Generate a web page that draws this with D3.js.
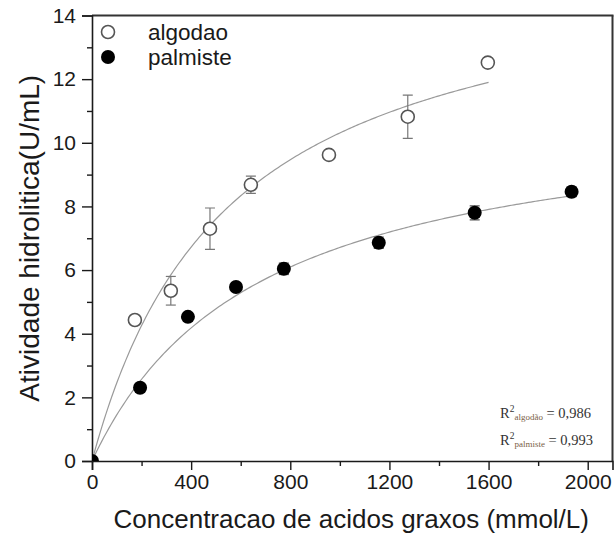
<!DOCTYPE html>
<html>
<head>
<meta charset="utf-8">
<script src="https://cdn.jsdelivr.net/npm/d3@7"></script>
<style>
  html, body { margin: 0; padding: 0; background: #fff; }
  svg { display: block; }
</style>
</head>
<body>
<svg id="chart" width="614" height="542"></svg>
<script>
// Hydrolytic activity vs. fatty acid concentration, two oils
const seriesNames = ["algodao", "palmiste"];

const algodaoX   = [173, 318, 476, 641, 956, 1274, 1597];
const algodaoY   = [4.43, 5.35, 7.30, 8.68, 9.62, 10.82, 12.52];
const algodaoErr = [0.12, 0.45, 0.65, 0.27, 0.12, 0.68, 0.12];

const palmisteX   = [0, 194, 387, 581, 774, 1157, 1544, 1935];
const palmisteY   = [0, 2.30, 4.53, 5.47, 6.04, 6.86, 7.80, 8.46];
const palmisteErr = [0, 0.12, 0.12, 0.12, 0.18, 0.18, 0.22, 0.15];

// Michaelis–Menten fit parameters (Vmax, Km) and fitted range
const fitAlgodao  = { vmax: 16.0, km: 552, xmax: 1600 };
const fitPalmiste = { vmax: 11.24, km: 675, xmax: 1935 };

const r2Labels = [
  { name: "algodão",  value: "0,986" },
  { name: "palmiste", value: "0,993" }
];

const xMajorTicks = [0, 400, 800, 1200, 1600, 2000];
const xMinorTicks = [200, 600, 1000, 1400, 1800];
const yMajorTicks = [0, 2, 4, 6, 8, 10, 12, 14];
const yMinorTicks = [1, 3, 5, 7, 9, 11, 13];

const xTitle = "Concentracao de acidos graxos (mmol/L)";
const yTitle = "Atividade hidrolitica(U/mL)";

const svg = d3.select("#chart");
const pLeft = 92, pRight = 612.5, pTop = 15.5, pBottom = 461;

const x = d3.scaleLinear().domain([0, 2100]).range([pLeft, pRight]);
const y = d3.scaleLinear().domain([0, 14]).range([pBottom, pTop]);

const font = "'Liberation Sans', Arial, Helvetica, sans-serif";
const ink = "#1a1a1a";

svg.append("defs").append("clipPath").attr("id", "plotClip")
  .append("rect").attr("x", pLeft).attr("y", pTop)
  .attr("width", pRight - pLeft).attr("height", pBottom - pTop);

// frame (top and right)
svg.append("line").attr("x1", pLeft).attr("x2", pRight + 1).attr("y1", pTop).attr("y2", pTop)
  .attr("stroke", "#333").attr("stroke-width", 2);
svg.append("line").attr("x1", pRight).attr("x2", pRight).attr("y1", pTop).attr("y2", pBottom)
  .attr("stroke", "#333").attr("stroke-width", 2);

// x axis
svg.append("g").attr("transform", `translate(0,${pBottom})`)
  .call(d3.axisBottom(x).tickValues(xMajorTicks).tickSize(9).tickPadding(4).tickFormat(d3.format("d")));
svg.append("g").attr("transform", `translate(0,${pBottom})`)
  .call(d3.axisBottom(x).tickValues(xMinorTicks).tickSize(5).tickFormat(""))
  .call(g => g.select(".domain").remove());

// y axis
svg.append("g").attr("transform", `translate(${pLeft},0)`)
  .call(d3.axisLeft(y).tickValues(yMajorTicks).tickSize(10).tickPadding(6).tickFormat(d3.format("d")));
svg.append("g").attr("transform", `translate(${pLeft},0)`)
  .call(d3.axisLeft(y).tickValues(yMinorTicks).tickSize(5).tickFormat(""))
  .call(g => g.select(".domain").remove());

svg.selectAll(".tick line").attr("stroke", ink).attr("stroke-width", 1.4);
svg.selectAll(".domain").attr("stroke", ink).attr("stroke-width", 1.6);
svg.selectAll(".tick text").attr("font-family", font).attr("font-size", 21).attr("fill", ink);

// axis titles
svg.append("text").attr("x", (pLeft + pRight) / 2 - 1).attr("y", 528)
  .attr("text-anchor", "middle").attr("font-family", font).attr("font-size", 26)
  .attr("fill", ink).text(xTitle);
svg.append("text").attr("transform", `translate(39,${(pTop + pBottom) / 2})rotate(-90)`)
  .attr("text-anchor", "middle").attr("font-family", font).attr("font-size", 28)
  .attr("fill", ink).text(yTitle);

const plot = svg.append("g").attr("clip-path", "url(#plotClip)");

// fitted curves
function fitPoints(f) {
  return d3.range(0, 201).map(i => {
    const xv = f.xmax * i / 200;
    return [xv, f.vmax * xv / (f.km + xv)];
  });
}
const line = d3.line().x(d => x(d[0])).y(d => y(d[1]));
[fitAlgodao, fitPalmiste].forEach(f => {
  plot.append("path").attr("d", line(fitPoints(f)))
    .attr("fill", "none").attr("stroke", "#9a9a9a").attr("stroke-width", 1.2);
});

// error bars
function errorBars(xs, ys, es, color) {
  const g = plot.append("g").attr("stroke", color).attr("stroke-width", 1.2);
  xs.forEach((xv, i) => {
    if (!es[i]) return;
    const cx = x(xv), y1 = y(ys[i] + es[i]), y2 = y(ys[i] - es[i]);
    g.append("line").attr("x1", cx).attr("x2", cx).attr("y1", y1).attr("y2", y2);
    g.append("line").attr("x1", cx - 5).attr("x2", cx + 5).attr("y1", y1).attr("y2", y1);
    g.append("line").attr("x1", cx - 5).attr("x2", cx + 5).attr("y1", y2).attr("y2", y2);
  });
}
errorBars(algodaoX, algodaoY, algodaoErr, "#777");
errorBars(palmisteX, palmisteY, palmisteErr, "#555");

// markers
plot.selectAll(".pt-algodao").data(algodaoX).enter().append("circle")
  .attr("cx", d => x(d)).attr("cy", (d, i) => y(algodaoY[i])).attr("r", 6.5)
  .attr("fill", "#fff").attr("stroke", "#555").attr("stroke-width", 1.6);
plot.selectAll(".pt-palmiste").data(palmisteX).enter().append("circle")
  .attr("cx", d => x(d)).attr("cy", (d, i) => y(palmisteY[i])).attr("r", 7)
  .attr("fill", "#000");

// legend
const legend = svg.append("g");
seriesNames.forEach((name, i) => {
  const ly = 32 + i * 25;
  if (i === 0) {
    legend.append("circle").attr("cx", 108).attr("cy", ly).attr("r", 6.5)
      .attr("fill", "#fff").attr("stroke", "#555").attr("stroke-width", 1.6);
  } else {
    legend.append("circle").attr("cx", 108).attr("cy", ly).attr("r", 7).attr("fill", "#000");
  }
  legend.append("text").attr("x", 148).attr("y", ly + 8)
    .attr("font-family", font).attr("font-size", 22.5).attr("fill", ink).text(name);
});

// R² annotations
const serif = "'Liberation Serif', 'Times New Roman', serif";
r2Labels.forEach((d, i) => {
  const t = svg.append("text").attr("x", 500).attr("y", 418 + i * 27)
    .attr("font-family", serif).attr("font-size", 14.5).attr("fill", "#333");
  t.append("tspan").text("R");
  t.append("tspan").attr("dy", -6).attr("font-size", 9.5).text("2");
  t.append("tspan").attr("dy", 8).attr("font-size", 9).attr("fill", "#7a6046").text(d.name);
  t.append("tspan").attr("dy", -2).text(" = " + d.value);
});
</script>
</body>
</html>
